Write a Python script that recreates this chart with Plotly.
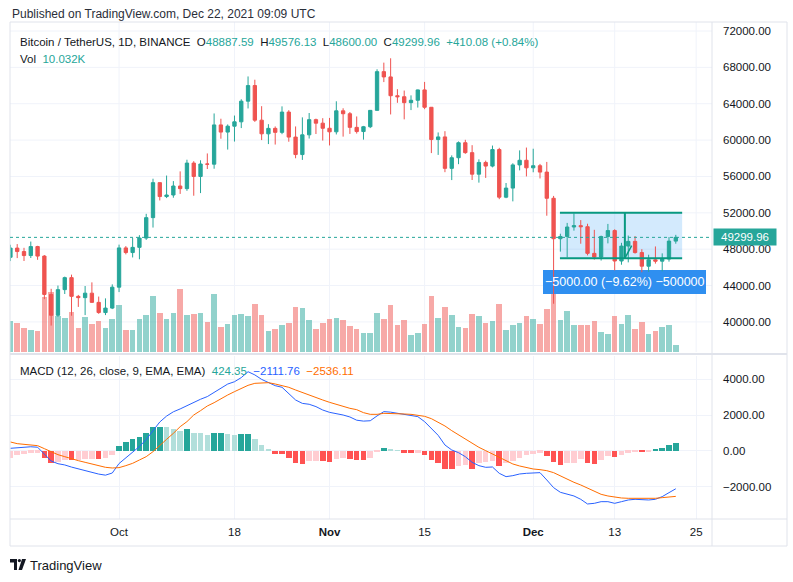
import plotly.graph_objects as go
import pandas as pd

W, H = 793, 582


def px(x):
    return x / W


def py(y):
    return 1 - y / H


# ---- data (BTCUSDT, 1D, 15 Sep - 22 Dec 2021) ----
dates = pd.date_range("2021-09-15", "2021-12-22", freq="D")

opens = [47110, 48120, 47740, 47300, 48290, 47240, 43020, 40730, 43550, 44870, 42810, 42670, 43160, 42150, 41030, 41520,
         43820, 48140, 47630, 48200, 49220, 51470, 55320, 53790, 53960, 54950, 54660, 57470, 56000, 57370, 57350,
         61670, 60880, 61530, 62010, 64280, 66000, 62190, 60690, 61290, 60850, 63080, 60330, 58410, 60580, 62250, 61860,
         61300, 60910, 63220, 62900, 61400, 60940, 61470, 63270, 67530, 66950, 64880, 64770, 64120, 64380, 65520,
         63610, 60060, 60350, 56890, 58060, 59710, 58620, 56250, 57540, 57140, 58960, 53720, 54720, 57270, 57780,
         56950, 57180, 56480, 53600, 49150, 49400, 50440, 50590, 50470, 47540, 47140, 49390, 50050, 46700, 48340, 48860,
         47630, 46130, 46830, 46680, 46910, 48887.59]
highs = [48490, 48560, 48150, 48840, 48370, 47350, 43640, 44000, 44980, 45200, 42970, 43950, 44350, 42790, 42590, 44130,
         48500, 48340, 49230, 49540, 51890, 55750, 55330, 56100, 55490, 56560, 57840, 57680, 57780, 58530, 62930,
         62350, 61720, 62700, 64490, 67000, 66640, 63730, 61750, 61500, 63710, 63290, 61500, 62500, 62980, 62360, 62410,
         62440, 64270, 63500, 63090, 62600, 61560, 63290, 67790, 68520, 69000, 65600, 65450, 64920, 65550, 66400,
         63620, 60840, 60980, 58320, 59850, 60030, 59440, 57880, 57740, 59400, 59150, 55280, 57450, 58870, 59180,
         59050, 57380, 57600, 53860, 49700, 50890, 51940, 51200, 50800, 50130, 49490, 50780, 50190, 48700, 49500, 49440,
         48000, 47390, 48300, 47540, 49330, 49576.13]
lows = [46690, 47020, 46700, 47030, 46830, 42500, 39600, 40570, 43070, 40680, 41650, 40750, 42100, 40890, 40750, 41410,
        43280, 47430, 47090, 46890, 49020, 50380, 53360, 53620, 53660, 54080, 54420, 53880, 54170, 56820, 56850,
        60150, 58960, 59840, 61320, 63480, 62000, 60000, 59560, 59510, 60650, 59820, 58000, 57820, 60170, 60670, 59950,
        59410, 60620, 60380, 60680, 60720, 60050, 61320, 63270, 66380, 62820, 64100, 62280, 63300, 63580, 63400,
        58570, 58370, 56470, 55600, 57350, 58490, 55610, 55320, 55840, 57000, 53500, 53610, 53260, 56670, 56000,
        56460, 55780, 51680, 42000, 47730, 47100, 50040, 48600, 47320, 46850, 46750, 48640, 45670, 46290, 46550, 47510,
        45460, 45500, 46410, 45560, 46630, 48600.00]
closes = [48120, 47740, 47300, 48290, 47240, 43020, 40730, 43550, 44870, 42810, 42670, 43160, 42150, 41030, 41520, 43820,
          48140, 47630, 48200, 49220, 51470, 55320, 53790, 53960, 54950, 54660, 57470, 56000, 57370, 57350, 61670,
          60880, 61530, 62010, 64280, 66000, 62190, 60690, 61290, 60850, 63080, 60330, 58410, 60580, 62250, 61860, 61300,
          60910, 63220, 62900, 61400, 60940, 61470, 63270, 67530, 66950, 64880, 64770, 64120, 64380, 65520, 63610,
          60060, 60350, 56890, 58060, 59710, 58620, 56250, 57540, 57140, 58960, 53720, 54720, 57270, 57780, 56950,
          57180, 56480, 53600, 49150, 49400, 50440, 50590, 50470, 47540, 47140, 49390, 50050, 46700, 48340, 48860, 47630,
          46130, 46830, 46680, 46910, 48889.88, 49299.96]
# volume, thousands of BTC
volumes = [44, 41, 34, 31, 30, 79, 86, 51, 49, 57, 34, 50, 40, 44, 34, 47,
           67, 31, 31, 47, 53, 80, 56, 47, 56, 90, 53, 54, 56, 43, 83,
           36, 40, 53, 54, 51, 69, 53, 30, 33, 39, 41, 64, 63, 46, 33, 41,
           47, 49, 46, 37, 33, 27, 27, 56, 47, 67, 39, 46, 24, 27, 40,
           80, 49, 64, 53, 36, 34, 54, 51, 41, 44, 69, 31, 39, 41, 51,
           47, 40, 61, 83, 46, 59, 39, 39, 39, 44, 29, 26, 51, 40, 53, 33,
           43, 26, 30, 36, 39, 10.032]

macd = [150, 180, 205, 235, 210, -200, -560, -710, -780, -900, -1000, -1060, -1180, -1290, -1350, -1230,
        -700, -380, -60, 250, 640, 1150, 1620, 1950, 2190, 2350, 2530, 2750, 2890, 3040, 3260, 3500, 3740, 3870,
        4100, 4430, 4250, 4000, 3820,
        3650, 3560, 3220, 2850, 2660, 2610, 2480, 2290, 2160, 2100, 2010, 1900, 1720, 1670, 1690, 1960, 2200, 2170,
        2110, 2030, 1960, 1920, 1640, 1266, 875, 335, 56, -93, -317, -633,
        -819, -912, -894, -1248, -1434, -1378, -1285, -1248, -1210, -1210, -1620, -2048, -2309, -2421, -2514, -2700,
        -2961, -2924, -2831, -2831, -2924, -2831, -2737, -2700, -2737, -2737, -2700, -2551, -2328, -2111.76]
signal = [503, 410, 372, 335, 298, 130, -56, -205, -317, -447, -540, -633, -726, -819, -912, -950,
          -931, -819, -689, -503, -317, -37, 335, 652, 987, 1359, 1639, 2011, 2253, 2514, 2700, 2924, 3128, 3315,
          3501, 3668, 3780, 3817, 3817,
          3743, 3668, 3557, 3408, 3259, 3110, 2961, 2849, 2719, 2607, 2477, 2384, 2309, 2142, 2048, 2048, 2104, 2104,
          2104, 2067, 2048, 2011, 1937, 1806, 1620, 1397, 1136, 894, 689, 447,
          205, 19, -168, -354, -540, -726, -838, -931, -1006, -1043, -1099, -1210, -1397, -1564, -1750, -1899,
          -2086, -2272, -2421, -2514, -2588, -2626, -2644, -2644, -2663, -2663, -2644, -2607, -2570, -2536.11]
hist = [-410, -240, -150, -95, -90, -410, -689, -615, -503, -520, -503, -466, -460, -475, -410, -242,
        279, 503, 652, 801, 987, 1322, 1330, 1320, 1210, 1136, 1210, 1024, 987, 894, 987, 990, 950, 875, 931, 950,
        652, 317, 93,
        -168, -175, -410, -689, -700, -559, -550, -575, -590, -428, -372, -466, -503, -510, -372, -40, 186, 130, 37,
        -93, -100, -90, -223, -503, -689, -987, -1000, -838, -800, -987,
        -652, -640, -559, -838, -652, -559, -372, -242, -149, -93, -279, -615, -782, -689, -652, -466, -689, -700,
        -503, -279, -335, -223, -93, -37, -56, -19, 56, 149, 317, 424.35]

tick_dates = ["2021-10-01", "2021-10-18", "2021-11-01", "2021-11-15", "2021-12-01", "2021-12-13", "2021-12-25"]
tick_text = ["Oct", "18", "<b>Nov</b>", "15", "<b>Dec</b>", "13", "25"]
price_ticks = list(range(40000, 72001, 4000))
macd_ticks = [-2000, 0, 2000, 4000]

# price range drawing
range_top, range_bottom = 52000, 47000
range_start, range_mid, range_end = "2021-12-04 22:30", "2021-12-14 12:00", "2021-12-22 22:30"

UP, DOWN = "#26a69a", "#ef5350"
UP_VOL, DOWN_VOL = "rgba(38,166,154,0.5)", "rgba(239,83,80,0.5)"
BLUE, ORANGE = "#2962ff", "#ff6d00"
GRID, BORDER, TEXT = "#f0f3fa", "#e0e3eb", "#131722"
FONT = "Liberation Sans"
DAY = 86400000

fig = go.Figure()

vol_colors = [UP_VOL if c >= o else DOWN_VOL for o, c in zip(opens, closes)]
fig.add_trace(go.Bar(x=dates, y=volumes, marker_color=vol_colors, marker_line_width=0,
                     width=0.82 * DAY, xaxis="x", yaxis="y", hoverinfo="skip"))

fig.add_trace(go.Candlestick(
    x=dates, open=opens, high=highs, low=lows, close=closes, xaxis="x", yaxis="y2",
    increasing=dict(line=dict(color=UP, width=1), fillcolor=UP),
    decreasing=dict(line=dict(color=DOWN, width=1), fillcolor=DOWN),
    whiskerwidth=0))

hist_colors = []
for i, v in enumerate(hist):
    prev = hist[i - 1] if i > 0 else float("-inf")
    if v >= 0:
        hist_colors.append("#26a69a" if v >= prev else "#b2dfdb")
    else:
        hist_colors.append("#ffcdd2" if v >= prev else "#ff5252")
fig.add_trace(go.Bar(x=dates, y=hist, marker_color=hist_colors, marker_line_width=0,
                     width=0.82 * DAY, xaxis="x2", yaxis="y3"))
fig.add_trace(go.Scatter(x=dates, y=macd, mode="lines", line=dict(color=BLUE, width=1),
                         xaxis="x2", yaxis="y3"))
fig.add_trace(go.Scatter(x=dates, y=signal, mode="lines", line=dict(color=ORANGE, width=1),
                         xaxis="x2", yaxis="y3"))

x_range = ["2021-09-14 22:30", "2021-12-27 08:00"]
xdom = [px(10), px(712)]
axis_font = dict(family=FONT, size=11.5, color=TEXT)

fig.update_layout(
    width=W, height=H, autosize=False, showlegend=False,
    margin=dict(l=0, r=0, t=0, b=0),
    paper_bgcolor="white", plot_bgcolor="white",
    bargap=0,
    font=dict(family=FONT, size=11.5, color=TEXT),
    xaxis=dict(domain=xdom, range=x_range, type="date", anchor="y",
               tickvals=tick_dates, showticklabels=False, showgrid=False,
               zeroline=False, showline=False, ticks="", rangeslider=dict(visible=False)),
    xaxis2=dict(domain=xdom, range=x_range, type="date", anchor="y3", matches="x",
                tickvals=tick_dates, ticktext=tick_text, tickfont=axis_font,
                showgrid=True, gridcolor=GRID, zeroline=False, showline=False, ticks="",
                ticklabelstandoff=4),
    yaxis=dict(domain=[py(352), py(22)], range=[0, 472], visible=False, fixedrange=True),
    yaxis2=dict(overlaying="y", anchor="x", side="right", range=[36690, 72990],
                tickvals=price_ticks, tickformat=".2f", tickfont=axis_font,
                showgrid=False, zeroline=False, showline=False, ticks="",
                ticklabelstandoff=10),
    yaxis3=dict(domain=[py(519), py(356)], anchor="x2", side="right", range=[-3800, 5307],
                tickvals=macd_ticks, tickformat=".2f", tickfont=axis_font,
                showgrid=True, gridcolor=GRID, zeroline=False, showline=False, ticks="",
                ticklabelstandoff=10),
)

shapes = []
# price pane grid (as shapes so the drawings can sit on top of it)
for p in price_ticks:
    shapes.append(dict(type="line", xref="paper", yref="y2", x0=px(10), x1=px(712), y0=p, y1=p,
                       line=dict(color=GRID, width=1), layer="below"))
for d in tick_dates:
    shapes.append(dict(type="line", xref="x", yref="paper", x0=d, x1=d, y0=py(352), y1=py(22),
                       line=dict(color=GRID, width=1), layer="below"))
# frame and pane separators
shapes.append(dict(type="rect", xref="paper", yref="paper", x0=px(10), x1=px(787), y0=py(546), y1=py(22),
                   line=dict(color=BORDER, width=1), layer="above"))
shapes.append(dict(type="line", xref="paper", yref="paper", x0=px(712), x1=px(712), y0=py(546), y1=py(22),
                   line=dict(color=BORDER, width=1), layer="above"))
shapes.append(dict(type="line", xref="paper", yref="paper", x0=px(10), x1=px(787), y0=py(354), y1=py(354),
                   line=dict(color=BORDER, width=2), layer="above"))
shapes.append(dict(type="line", xref="paper", yref="paper", x0=px(10), x1=px(787), y0=py(519), y1=py(519),
                   line=dict(color=BORDER, width=1), layer="above"))
# last price dotted line
shapes.append(dict(type="line", xref="paper", yref="y2", x0=px(10), x1=px(712), y0=closes[-1], y1=closes[-1],
                   line=dict(color=UP, width=1, dash="dot"), layer="above"))
# price range drawing
shapes.append(dict(type="rect", xref="x", yref="y2", x0=range_start, x1=range_end, y0=range_bottom, y1=range_top,
                   fillcolor="rgba(33,150,243,0.2)", line=dict(width=0), layer="below"))
for lvl in (range_top, range_bottom):
    shapes.append(dict(type="line", xref="x", yref="y2", x0=range_start, x1=range_end, y0=lvl, y1=lvl,
                       line=dict(color="#089981", width=2), layer="above"))
shapes.append(dict(type="line", xref="x", yref="y2", x0=range_mid, x1=range_mid, y0=range_bottom, y1=range_top,
                   line=dict(color="#089981", width=2), layer="above"))
shapes.append(dict(type="line", xref="x", yref="y2", x0=range_mid, x1="2021-12-15 12:00",
                   y0=range_bottom, y1=48400, line=dict(color="#089981", width=1.5), layer="above"))
# measure label
shapes.append(dict(type="rect", xref="paper", yref="paper", x0=px(543), x1=px(706), y0=py(294), y1=py(270),
                   fillcolor="#2f8ff0", line=dict(width=0), layer="below"))
# footer logo
shapes.append(dict(type="path", xref="paper", yref="paper",
                   path=f"M{px(10)},{py(559)} L{px(17)},{py(559)} L{px(17)},{py(570)} L{px(14)},{py(570)} "
                        f"L{px(14)},{py(562.5)} L{px(10)},{py(562.5)} Z",
                   fillcolor=TEXT, line=dict(width=0)))
shapes.append(dict(type="circle", xref="paper", yref="paper", x0=px(17.8), x1=px(21), y0=py(562.2), y1=py(559),
                   fillcolor=TEXT, line=dict(width=0)))
shapes.append(dict(type="path", xref="paper", yref="paper",
                   path=f"M{px(22)},{py(559)} L{px(26)},{py(559)} L{px(22)},{py(570)} L{px(18.5)},{py(570)} Z",
                   fillcolor=TEXT, line=dict(width=0)))
fig.update_layout(shapes=shapes)


def num(v):
    return f"{v:.2f}".replace("-", "\u2212")


change = closes[-1] - closes[-2]
pct = change / closes[-2] * 100
teal = f"<span style='color:{UP}'>"
header = (f"Bitcoin / TetherUS, 1D, BINANCE&nbsp;&nbsp;O{teal}{opens[-1]:.2f}</span>&nbsp;&nbsp;"
          f"H{teal}{highs[-1]:.2f}</span>&nbsp;&nbsp;L{teal}{lows[-1]:.2f}</span>&nbsp;&nbsp;"
          f"C{teal}{closes[-1]:.2f}</span>&nbsp;&nbsp;{teal}+{change:.2f} (+{pct:.2f}%)</span>")
vol_text = f"Vol&nbsp;&nbsp;{teal}{volumes[-1]:.3f}K</span>"
macd_text = (f"MACD (12, 26, close, 9, EMA, EMA)&nbsp;&nbsp;{teal}{num(hist[-1])}</span>&nbsp;&nbsp;"
             f"<span style='color:{BLUE}'>{num(macd[-1])}</span>&nbsp;&nbsp;"
             f"<span style='color:{ORANGE}'>{num(signal[-1])}</span>")
diff = range_bottom - range_top
measure_text = f"{num(diff)} ({num(diff / range_top * 100)}%) {num(diff / 0.01).split('.')[0]}"

ann = [
    dict(x=px(10), y=py(14), text="Published on TradingView.com, Dec 22, 2021 09:09 UTC",
         font=dict(size=12, color="#2a2e39")),
    dict(x=px(18), y=py(42), text=header, font=dict(size=11.5, color=TEXT)),
    dict(x=px(18), y=py(59), text=vol_text, font=dict(size=11.5, color=TEXT)),
    dict(x=px(18), y=py(371), text=macd_text, font=dict(size=11.5, color=TEXT)),
    dict(x=px(28), y=py(565), text="TradingView", font=dict(size=13, color=TEXT)),
]
for a in ann:
    a.update(xref="paper", yref="paper", xanchor="left", yanchor="middle", showarrow=False)
ann.append(dict(xref="paper", yref="y2", x=px(713), y=closes[-1], xanchor="left", yanchor="middle",
                text=f"{closes[-1]:.2f}", showarrow=False, bgcolor=UP, width=60, height=14,
                font=dict(size=11.5, color="white"), borderpad=1))
ann.append(dict(xref="paper", yref="paper", x=px(624.5), y=py(282), xanchor="center", yanchor="middle",
                text=measure_text, showarrow=False, font=dict(size=12.5, color="white")))
fig.update_layout(annotations=ann)

fig.write_html("out.html", config={"displayModeBar": False},
               post_script="document.body.style.margin='0px';")
